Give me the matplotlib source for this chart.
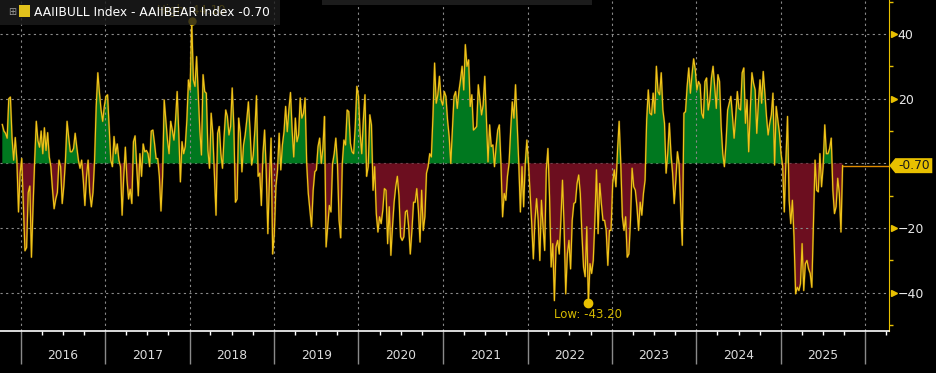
import numpy as np
import pandas as pd
import matplotlib
matplotlib.use('Agg')
import matplotlib.pyplot as plt
import matplotlib.dates as mdates
from matplotlib.patches import Rectangle, Polygon

# AAII bull - bear spread, weekly (late 2015 .. Sep 2025)
seg_2015_16 = [12, 10, 9.3, 7.8, 20, 20.5, 8, 1, 8, 1, -15, -3, 1.5, -13, -27, -26, -9,
               -7, -29, -13, 1, 13, 7, 5, 10, 3, 11, 4, 9.5, 2, -1, -8, -14, -11, -9, 1,
               -1, -12.4, -7, 1, 13, 8, 3.6, 3.6, 4.6, 9.3, 5, 1, -1.5, 1, -5, -13, -4,
               1, -9, -13.4, -9, 1, 17.6, 28, 21.7, 16.5, 13, 17.6, 20.7, 21.2, 11.4, 1,
               -1, 8.3, 3, 6, 1, -1]
seg_2017_18 = [-16, -4, 5, -5, -11, -8, -12.4, 6.7, 8.5, -1, -10, 3, -4, 6, 3.6, 4, 3,
               -1, 10, 10.3, 6.2, 1.5, 1.5, -4, -14.7, -4, 19.6, 13.4, 7.2, 3, 13, 10.3,
               7.2, 13.4, 22.2, 9.3, -5.7, 6.7, 3, 5.2, 13.4, 25.8, 22.7, 44.1, 25.8,
               23.8, 33, 21.7, 10.3, 2.6, 27.4, 22.2, 21.7, 4, -1.5, 15.5, 9.3, -3, -16,
               9.3, 11.4, 3, -1.5, 8.3, 16.5, 14.5, 8.8, 11.4, 23.3]
seg_2018_19 = [11.4, -12, -11, 14, 9.3, -2.6, 5.7, 8.8, 13.4, 19, 10.3, -0.5, 2.6, 10.3,
               20.9, -4, -3, -13, 3, 10.3, -2, -21.7, -5, 7.8, -28, -21.7, -7, -2, 9.3,
               -2, 5.7, 9.8, 17.6, 9.8, 16.5, 21.9, 10.3, 2, 14, 6.7, 8.8, 20.2, 14,
               15.5, 20.2, 0, -9.3, -14.5, -19.6, -8.3, -2.6, -2, 5.2, 7.8, 0, 4.6, 14.5,
               -25.8, -19.6, -13, -15, 0, 3, 7.8, 0, -17.6, -23]
seg_2020_21 = [0, 7.2, 5.7, 16.5, 16, 6.2, 3.6, 3, 11.4, 23.8, 20.7, 9.3, 3, 13.4, 21.2,
               -4, -1, 15, 11.9, -8.3, -1, -15.5, -21.2, -16.5, -18.6, -14.5, -7.8,
               -8.3, -24.8, -13.4, -28.4, -19.6, -12, -7.2, -4, -10, -22.7, -23.8, -22.7,
               -15, -14.5, -19.6, -28, -20.7, -12, -12, -7.8, -14.5, -24.3, -8.3,
               -20.7, -16.5, -3, -1, 3, 2, 14.5, 31, 18.6, 21.2, 26.9, 19.6, 18, 22.2,
               20.7, 13.4, 8.3, 0]
seg_2021_22 = [10.3, 20.7, 22.2, 17, 22.2, 25.8, 30, 22.7, 36.7, 30, 32, 17.6, 21.2,
               10.3, 10.8, 11.4, 24.3, 19.6, 15, 18, 26.9, 13.4, 0.5, 11.9, 5.2, 5.7,
               -1, 5.2, 10.3, 11.9, 0, -16.5, -9.3, -11.4, -4, 0, 10.3, 19, 14, 24.3,
               12.4, 0, -15, -1, -13.4, 0, 7.2, 0, -9.3, -18.6, -29.5, -17.6, -10.9,
               -17.6, -30, -11.4, -19.6, -26.9, -2, 4.6, -10.3, -32, -24.8, -42.4,
               -25.8, -23.8, -28]
seg_2022_23 = [-17.6, -5.2, -19.6, -40.3, -28, -23.8, -32.6, -17.6, -12.4, -12, -6.2,
               -3.6, -9.3, -21.7, -32, -35, -19.6, -43.2, -31, -34, -30, -17.6, -2,
               -21.7, -6.2, -12.4, -17.6, -17.6, -20.7, -31.5, -20.7, -20.7, -6.2, -2,
               -7.2, 4, 13, 0, -16.5, -20.7, -16.5, -29, -28, -17.6, -1.5, -7.2, -8.3,
               -13.4, -20.7, -12, -16, -9.3, -5.2, 13.4, 22.7, 15.5, 15, 21.7, 15.5,
               30, 22.2, 21.2, 28, 16.5, 12.4, -3, 3, 12.4]
seg_2023_24 = [3, -3, -12.4, -5.2, 3.6, 0, -13.4, -25.3, 15.5, 16, 23.8, 29.5, 21.7,
               27.4, 32.3, 29, 22.7, 25.3, 24.3, 15.5, 14, 25.3, 26.4, 16.5, 19.6, 26.4,
               30, 23.8, 17, 27.4, 25.3, 11.4, 3, -1, 6.2, 16.5, 18.6, 20.7, 14.5, 7.8,
               14.5, 22.2, 17, 16.5, 28, 29.5, 12.4, 19.6, 3.6, 16.5, 28, 24.8, 22.7,
               9.3, 18.6, 25.8, 18.6, 28.4, 21.7, 14.5, 8.8, 12.4, 15, 21.7, -0.5, 17.6,
               13.4, 9.3]
seg_2025 = [3, -1, -15, 1, 14.5, -11.4, -18.6, -11.4, -22.7, -40.3, -38.3, -39.3,
            -37.2, -24.8, -39.3, -31, -30, -32.6, -34, -38.3, -18.6, 1, -8.3, -8.8, 3,
            -7.2, -1, 11.9, 3, 3, 4.6, 7.8, -8.3, -15.5, -13.4, -4.6, -9.3, -21.2, -0.7]

spread = np.array(seg_2015_16 + seg_2017_18 + seg_2018_19 + seg_2020_21 +
                  seg_2021_22 + seg_2022_23 + seg_2023_24 + seg_2025)
dates = pd.date_range(end='2025-09-24', periods=len(spread), freq='7D')

years = list(range(2016, 2026))
yticks = [-40, -20, 20, 40]
title = 'AAIIBULL Index - AAIIBEAR Index'

GREEN = '#00781f'
RED = '#6c0e1f'
GOLD = '#e8c000'
GRID = '#8a8a8a'

W, H = 936, 373
fig = plt.figure(figsize=(W / 100, H / 100), dpi=100, facecolor='black')
ax = fig.add_axes([0, 42 / H, 889.3 / W, 331 / H])
ax.set_facecolor('black')

ax.fill_between(dates, spread, 0, where=spread >= 0, interpolate=True,
                color=GREEN, lw=0)
ax.fill_between(dates, spread, 0, where=spread <= 0, interpolate=True,
                color=RED, lw=0)
ax.plot(dates, spread, color='#9a6a00', lw=1.5, alpha=0.5)
ax.plot(dates, spread, color='#f0c419', lw=0.85)

xmin, xmax = pd.Timestamp('2015-10-04'), pd.Timestamp('2026-04-14')
ax.set_xlim(xmin, xmax)
ax.set_ylim(-51.8, 50.5)

last = spread[-1]
ax.plot([dates[-1], xmax], [last, last], color='#e08c00', lw=1)

# grids
ax.xaxis.set_major_locator(mdates.YearLocator())
ax.xaxis.set_minor_locator(mdates.MonthLocator(bymonth=[4, 7, 10]))
ax.set_yticks(yticks)
ax.set_yticks([-50, -30, -10, 10, 30, 50], minor=True)
ax.grid(which='major', color=GRID, ls=(0, (2, 3)), lw=0.8)
ax.axhline(0, color=GRID, ls=(0, (2, 3)), lw=0.8, zorder=0.5)

for s in ['top', 'left']:
    ax.spines[s].set_visible(False)
ax.spines['right'].set_color(GOLD)
ax.spines['bottom'].set_color('white')
ax.spines['bottom'].set_linewidth(1.2)

ax.tick_params(axis='x', which='major', length=24, width=1, color=GRID,
               labelbottom=False)
ax.tick_params(axis='x', which='minor', length=3, width=1, color='white')
ax.yaxis.tick_right()
ax.tick_params(axis='y', which='major', length=0, pad=6, labelsize=9,
               labelcolor='#e8e8e8')
ax.tick_params(axis='y', which='minor', length=3, width=1, color=GOLD)
ax.plot(np.full(len(yticks), 1.005), yticks, '>', color=GOLD, ms=5,
        transform=ax.get_yaxis_transform(), clip_on=False)

for yr in years:
    ax.text(pd.Timestamp(f'{yr}-07-02'), -0.075, str(yr), color='#dcdcdc',
            fontsize=8.8, ha='center', va='center',
            transform=ax.get_xaxis_transform())

# high / low markers
i_hi, i_lo = spread.argmax(), spread.argmin()
ax.plot(dates[i_hi], spread[i_hi], 'o', color=GOLD, ms=5, clip_on=False, zorder=5)
ax.text(dates[i_hi], spread[i_hi] + 3.2, f'High: {spread[i_hi]:.2f}', color=GOLD,
        fontsize=8.5, ha='center', va='center', clip_on=False)
ax.plot(dates[i_lo], spread[i_lo], 'o', color=GOLD, ms=6, zorder=5)
ax.text(dates[i_lo], spread[i_lo] - 3.5, f'Low: {spread[i_lo]:.2f}', color='#d4b800',
        fontsize=8.5, ha='center', va='center')

# last value tag on the right axis
fig.canvas.draw()
ylast = ax.transData.transform((0, last))[1]
x0 = ax.transAxes.transform((1, 0))[0]
tag = Polygon([(x0, ylast), (x0 + 6, ylast + 7.5), (x0 + 43, ylast + 7.5),
               (x0 + 43, ylast - 7.5), (x0 + 6, ylast - 7.5)],
              closed=True, fc=GOLD, ec='none', transform=None, zorder=6)
fig.patches.append(tag)
fig.text((x0 + 25) / W, ylast / H, f'{last:.2f}', color='#1a1a1a', fontsize=8.8,
         ha='center', va='center', zorder=7)

# legend strip at top left
fig.patches.append(Rectangle((0, 1 - 25 / H), 280 / W, 25 / H, transform=fig.transFigure,
                             fc='#1c1c1c', ec='none', alpha=0.8, zorder=3))
fig.patches.append(Rectangle((322 / W, 1 - 5 / H), 270 / W, 5 / H,
                             transform=fig.transFigure, fc='#1c1c1c', ec='none',
                             zorder=3))
fig.patches.append(Rectangle((19 / W, 1 - 17 / H), 11 / W, 12 / H,
                             transform=fig.transFigure, fc='#e2c21c', ec='none',
                             zorder=4))
fig.text(12 / W, 1 - 12 / H, '\u229e', color='#9a9a9a', fontsize=7, ha='center',
         va='center', zorder=4)
fig.text(34 / W, 1 - 12 / H, f'{title} {last:.2f}', color='white', fontsize=8.8,
         ha='left', va='center', zorder=4)

fig.savefig('out.png', dpi=100, facecolor='black')
